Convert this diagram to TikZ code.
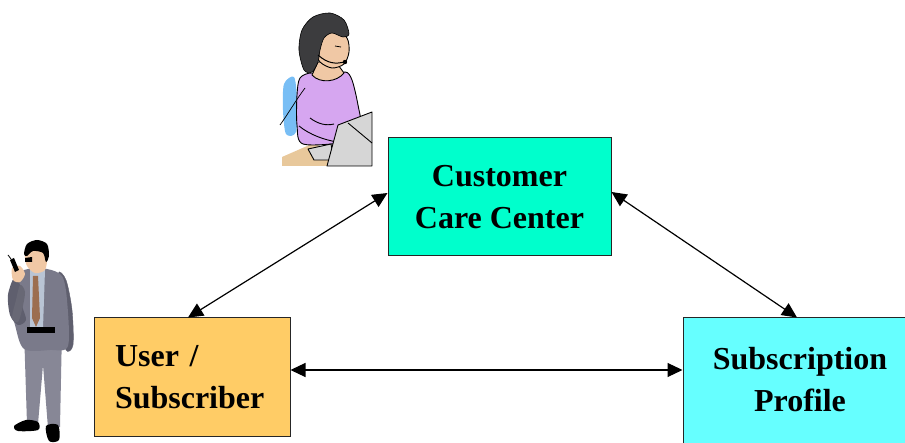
\documentclass[tikz,border=0pt]{standalone}
\usepackage{fontspec}
\setmainfont{Liberation Serif}
\usetikzlibrary{arrows.meta}
\definecolor{cccfill}{RGB}{0,255,204}
\definecolor{userfill}{RGB}{255,204,102}
\definecolor{subfill}{RGB}{102,255,255}
\definecolor{skin}{RGB}{240,200,165}
\definecolor{hairgray}{RGB}{60,60,62}
\definecolor{lilac}{RGB}{214,166,240}
\definecolor{chairblue}{RGB}{120,190,245}
\definecolor{desktan}{RGB}{232,200,155}
\definecolor{lapgray}{RGB}{214,214,214}
\definecolor{suit}{RGB}{122,122,138}
\definecolor{suitdark}{RGB}{95,95,110}
\definecolor{shirt}{RGB}{185,196,212}
\definecolor{tie}{RGB}{156,110,80}
\begin{document}
\begin{tikzpicture}[x=1pt,y=-1pt,
  box/.style={draw=black!85, line width=1pt, inner sep=0pt,
    font=\fontsize{32}{42}\selectfont\bfseries},
  link/.style={line width=1.2pt,
    {Triangle[length=15pt,width=14pt]}-{Triangle[length=15pt,width=14pt]}},
  outl/.style={draw=black, line width=0.9pt, line join=round}]
\useasboundingbox (0,0) rectangle (905,443);
\clip (0,0) rectangle (905,443);

% ---------- boxes ----------
\node[box, fill=cccfill, minimum width=223pt, minimum height=118pt, align=center]
  (ccc) at (499.5,197) {Customer\\Care Center};
\node[box, fill=userfill, minimum height=118pt, inner xsep=21pt, text width=154pt, align=left]
  (user) at (192,377) {User /\\Subscriber};
\node[box, fill=subfill, minimum width=234pt, minimum height=132pt, align=center]
  (sub) at (800,384) {Subscription\\Profile\\[-32pt]\mbox{}};

% ---------- connectors ----------
\draw[link] ([yshift=4pt]ccc.west) -- ([xshift=-4pt]user.north);
\draw[link] ([yshift=5pt]ccc.east) -- ([xshift=-3pt]sub.north);
\draw[link] ([yshift=7pt]user.east) -- ([yshift=7pt]user.east -| sub.west);

% ---------- woman (customer care agent) ----------
% chair back
\fill[chairblue] plot[smooth cycle] coordinates {(284,84) (294,77) (297,100) (296,132) (286,134) (283,110)};
% desk
\fill[desktan] (282,157) -- (314,143) -- (330,152) -- (330,166) -- (282,166) -- cycle;
% sweater body
\filldraw[fill=lilac, outl] plot[smooth cycle] coordinates {(300,78) (312,73) (327,80) (345,72) (352,80) (358,105) (361,130) (345,142) (303,144) (297,125) (297,95)};
% neck
\filldraw[fill=skin, outl] (318,62) -- (336,62) -- (344,73) .. controls (337,82) and (320,84) .. (312,75) -- cycle;
% face
\filldraw[fill=skin, outl] plot[smooth cycle] coordinates {(318,36) (334,28) (347,38) (349,52) (344,64) (332,68) (320,62) (315,50)};
% hair
\filldraw[fill=hairgray, draw=black, line width=0.6pt] plot[smooth cycle] coordinates {(304,70) (299,50) (302,30) (313,17) (330,13) (344,20) (349,34) (343,37) (332,33) (324,38) (320,50) (318,62) (312,72)};
% eye
\draw[black, line width=0.8pt] (335,46) -- (341,47);
% headset boom and cord
\draw[black, line width=1pt] (318,55) .. controls (328,64) and (336,64) .. (344,62);
\fill[black] (345,62) circle (2.2pt);
\draw[black, line width=0.7pt] (305,88) .. controls (296,100) and (288,114) .. (280,125);
% arm
\draw[black, line width=0.9pt] (299,126) .. controls (310,135) and (325,140) .. (337,142);
\draw[black, line width=0.9pt] (310,118) .. controls (318,124) and (326,126) .. (334,124);
% keyboard base
\filldraw[fill=lapgray, outl] (308,149) -- (331,144) -- (334,160) -- (314,160) -- cycle;
% laptop lid
\filldraw[fill=lapgray, outl] (338,125) -- (372,112) -- (372,166) -- (327,166) -- cycle;
\draw[black, line width=0.9pt] (348,123) -- (372,143);

% ---------- man (user with phone) ----------
% right arm sleeve
\filldraw[fill=suitdark, draw=suitdark] plot[smooth cycle] coordinates {(58,274) (66,280) (72,310) (73,345) (66,350) (61,320)};
% pants
\fill[suit!90!white] (24,330) -- (62,330) -- (60,427) -- (48,428) -- (43,365) -- (38,424) -- (27,424) -- cycle;
% shoes
\fill[black] plot[smooth cycle] coordinates {(14,426) (26,420) (38,422) (38,430) (18,431)};
\fill[black] plot[smooth cycle] coordinates {(46,426) (58,425) (59,440) (49,441)};
% jacket
\fill[suit] plot[smooth cycle] coordinates {(15,276) (28,269) (47,269) (62,276) (67,300) (68,346) (50,350) (24,349) (15,325) (10,300)};
% shirt
\fill[shirt] (30,270) -- (45,270) -- (43,328) -- (30,328) -- cycle;
% tie
\fill[tie] (33,276) -- (38,276) -- (40,318) -- (36,327) -- (32,318) -- cycle;
% belt
\fill[black] (27,327) -- (55,327) -- (55,333) -- (27,333) -- cycle;
% raised arm
\fill[suitdark] plot[smooth cycle] coordinates {(14,278) (20,285) (22,305) (26,320) (18,325) (10,315) (8,295)};
\fill[suit!85!black] plot[smooth cycle] coordinates {(12,318) (16,300) (20,285) (25,292) (22,310) (18,322)};
% hand and phone
\fill[skin] plot[smooth cycle] coordinates {(12,268) (20,266) (25,274) (20,282) (13,280)};
\fill[black] (10,260) -- (14,258) -- (19,270) -- (15,272) -- cycle;
\draw[black, line width=0.8pt] (11,259) -- (8,255);
% head
\fill[skin] plot[smooth cycle] coordinates {(25,255) (31,246) (43,247) (47,257) (45,270) (35,273) (27,266)};
\fill[black] plot[smooth cycle] coordinates {(24,254) (27,244) (37,240) (47,244) (49,256) (46,262) (43,253) (33,251) (27,256)};
\fill[black] (25,258) -- (32,257) -- (32,262) -- (25,262) -- cycle;
\end{tikzpicture}
\end{document}
